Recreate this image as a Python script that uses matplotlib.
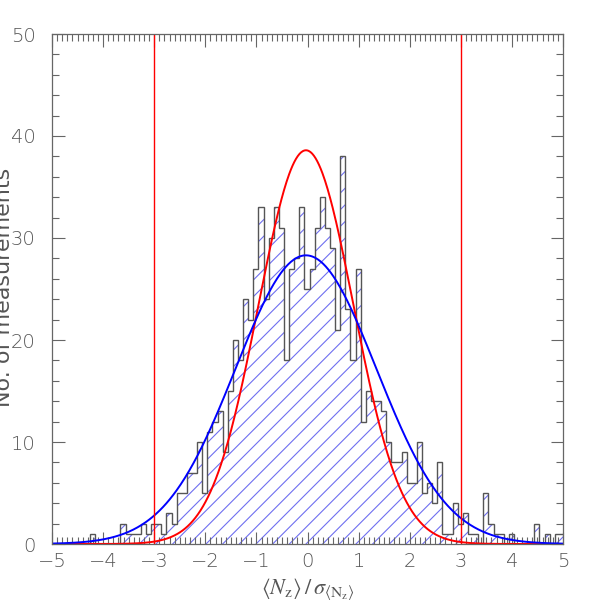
import numpy as np
import matplotlib
matplotlib.use('Agg')
import matplotlib.pyplot as plt
from matplotlib.ticker import MultipleLocator

# histogram: 100 bins of width 0.1, edges shifted a little from -5
bin_start = -4.96
bin_width = 0.1
counts = [0, 0, 0, 0, 0, 0, 0, 1, 0, 0,
          0, 0, 0, 2, 1, 1, 1, 2, 1, 2,
          2, 1, 3, 2, 5, 5, 7, 7, 10, 5,
          11, 12, 13, 9, 15, 20, 18, 24, 22, 27,
          33, 24, 30, 33, 31, 18, 27, 28, 33, 25,
          27, 31, 34, 31, 29, 21, 38, 23, 18, 27,
          12, 15, 14, 14, 13, 10, 8, 8, 9, 6,
          6, 10, 5, 6, 4, 8, 1, 1, 4, 2,
          3, 1, 1, 0, 5, 2, 1, 1, 0, 1,
          0, 0, 0, 0, 2, 0, 1, 0, 1, 1]

# gaussian curves (amplitude, mean, sigma)
red_fit = [38.6, -0.03, 0.93]
blue_fit = [28.3, -0.03, 1.38]

cut_lines = [-3, 3]

edges = bin_start + bin_width * np.arange(len(counts) + 1)
xx = np.linspace(-5, 5, 600)

def gauss(x, p):
    return p[0] * np.exp(-0.5 * ((x - p[1]) / p[2])**2)

plt.rcParams['mathtext.fontset'] = 'stix'
plt.rcParams['hatch.linewidth'] = 0.8

grey = '#666666'

fig = plt.figure(figsize=(5.94, 6.09), dpi=100)
ax = fig.add_axes([52/594, 1 - 544/609, 511/594, 510/609])

# hatched fill, then the step outline
ax.stairs(counts, edges, fill=True, facecolor='none', hatch='//',
          edgecolor='#6f6ff0', linewidth=0)
ax.stairs(counts, edges, color='#555555', linewidth=1.0)

ax.plot(xx, gauss(xx, red_fit), color='red', lw=1.4)
ax.plot(xx, gauss(xx, blue_fit), color='blue', lw=1.4)
for xc in cut_lines:
    ax.axvline(xc, color='red', lw=1.0)

ax.set_xlim(-5, 5)
ax.set_ylim(0, 50)

ax.xaxis.set_major_locator(MultipleLocator(1))
ax.xaxis.set_minor_locator(MultipleLocator(0.1))
ax.yaxis.set_major_locator(MultipleLocator(10))
ax.yaxis.set_minor_locator(MultipleLocator(2))
ax.tick_params(which='both', direction='in', top=True, right=True,
               color=grey, width=0.8, labelcolor='#555555', labelsize=14)
ax.tick_params(which='major', length=9)
ax.tick_params(which='minor', length=5)
ax.tick_params(axis='y', pad=12)
ax.tick_params(axis='x', pad=6)
for lab in ax.get_xticklabels() + ax.get_yticklabels():
    lab.set_family('DejaVu Sans')
    lab.set_fontweight('light')
for s in ax.spines.values():
    s.set_color(grey)
    s.set_linewidth(0.9)

ax.set_xlabel(r'$\langle N_{\rm z}\rangle\, /\, \sigma_{\langle {\rm N_z}\rangle}$',
              fontsize=16, color='#555555', labelpad=4)
# y label is partly cut off at the left edge, as in the original
fig.text(14/594, 1 - 287/609, 'No. of measurements', rotation=90, ha='right',
         va='center', fontsize=16, color='#555555')

fig.savefig('out.png', dpi=100)
